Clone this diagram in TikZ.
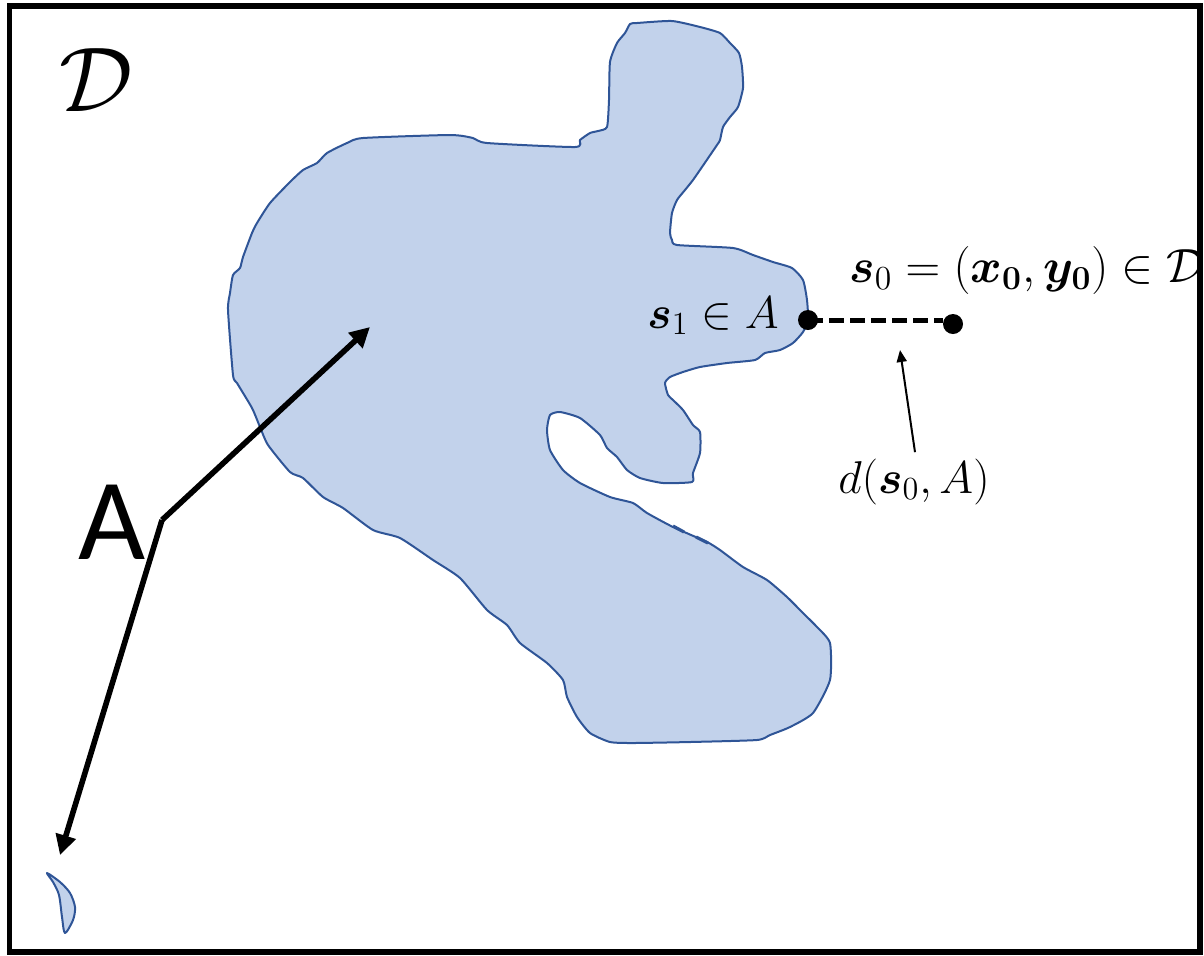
\RequirePackage{fix-cm}
\documentclass[tikz,border=0pt]{standalone}
\usepackage{amsmath,bm}
\usepackage{fontspec}
\newfontfamily\calibri{Carlito}
\usetikzlibrary{arrows.meta}
\definecolor{blobfill}{RGB}{194,210,235}
\definecolor{blobline}{RGB}{47,85,151}
\begin{document}
\begin{tikzpicture}[x=0.5pt,y=-0.5pt,
  region/.style={fill=blobfill,draw=blobline,line width=1pt,line join=round},
  dotnode/.style={circle,fill=black,inner sep=0pt,minimum size=10pt},
  mathlbl/.style={font=\fontsize{23}{27}\selectfont,inner sep=2pt},
  bigarrow/.style={line width=2.8pt,-{Triangle[length=10pt,width=10pt]}},
  thinarrow/.style={line width=1pt,-{Triangle[length=6pt,width=5pt]}},
  distline/.style={line width=2.5pt,dash pattern=on 7.5pt off 3pt},
  frame/.style={line width=2.6pt,draw=black}
]
\useasboundingbox (0,0) rectangle (1204,955);

% main region A
\draw[region] plot[smooth cycle,tension=0.35] coordinates {
(575,147) (580,140) (590,133) (598,131) (607,127) (609,100) (610,62) (617,43)
(625,33) (630,24) (637,23) (672,21) (700,27) (720,33) (730,43) (739,53)
(742,67) (743,88) (738,107) (730,117) (723,127) (720,140) (717,145) (702,167)
(693,180) (685,190) (677,200) (672,213) (670,233) (672,240) (677,245) (733,248)
(753,255) (773,262) (792,268) (803,280) (807,300) (808,320) (803,332) (793,343)
(780,350) (765,353) (755,360) (727,363) (700,367) (683,372) (670,377) (665,383)
(668,395) (673,400) (683,410) (693,425) (700,432) (700,453) (693,473) (692,482)
(663,483) (640,478) (627,470) (617,457) (607,448) (600,435) (580,418) (560,412)
(550,415) (547,430) (550,450) (563,470) (580,483) (610,497) (633,503) (647,513)
(673,527) (707,542) (720,550) (743,567) (767,580) (787,597) (803,613) (817,627)
(830,643) (830,680) (813,713) (790,727) (770,735) (757,740) (690,742) (633,743)
(610,742) (590,733) (577,717) (567,697) (563,680) (547,663) (520,643) (507,625)
(487,610) (460,578) (433,560) (400,538) (373,530) (343,508) (323,497) (303,478)
(290,472) (268,445) (260,427) (252,408) (237,383) (233,375) (228,310) (230,293)
(233,275) (240,268) (243,257) (252,233) (257,223) (270,203) (290,182) (303,170)
(317,163) (327,153) (347,143) (363,138) (450,135) (473,138) (487,143)
};
% small artefacts on the lower edge
\draw[blobline,line width=1.6pt] (673,526) -- (684,532);
\draw[blobline,line width=1.6pt] (696,537) -- (708,543);

% small separate piece
\draw[region] plot[smooth cycle,tension=0.5] coordinates {
(47,873) (60,882) (70,893) (75,907) (73,920) (65,933) (62,917) (59,895) (53,882)
};

% labels
\node[font=\fontsize{46}{50}\selectfont,inner sep=0pt] (dom) at (96,80) {$\mathcal{D}$};
\node[font=\calibri\fontsize{58}{62}\selectfont,inner sep=0pt] (Alabel) at (112,522) {A};

% arrows from A
\coordinate (corner) at (162,520);
\coordinate (tipA) at (370,327);
\coordinate (tipB) at (60,855);
\draw[bigarrow] (corner) -- (tipA);
\draw[bigarrow] (corner) -- (tipB);

% points
\node[dotnode] (s1) at (808,320) {};
\node[dotnode] (s0) at (953,324) {};
\draw[distline] (s1.center) -- (s1.center -| s0.west);

\node[mathlbl,anchor=base] (s1lbl) at (713,328) {$\bm{s}_1 \in A$};
\node[mathlbl,font=\fontsize{24}{28}\selectfont,anchor=base west] (s0lbl) at (845,282)
  {$\bm{s}_0 = (\bm{x_0}, \bm{y_0}) \in \mathcal{D}$};
\node[mathlbl,anchor=base] (dlbl) at (914,493) {$d(\bm{s}_0, A)$};
\coordinate (dtip) at (900,350);
\draw[thinarrow] (dlbl.north) ++(1,-2) -- (dtip);

% frame
\draw[frame] (9.5,6) rectangle (1200,952);
\end{tikzpicture}
\end{document}
